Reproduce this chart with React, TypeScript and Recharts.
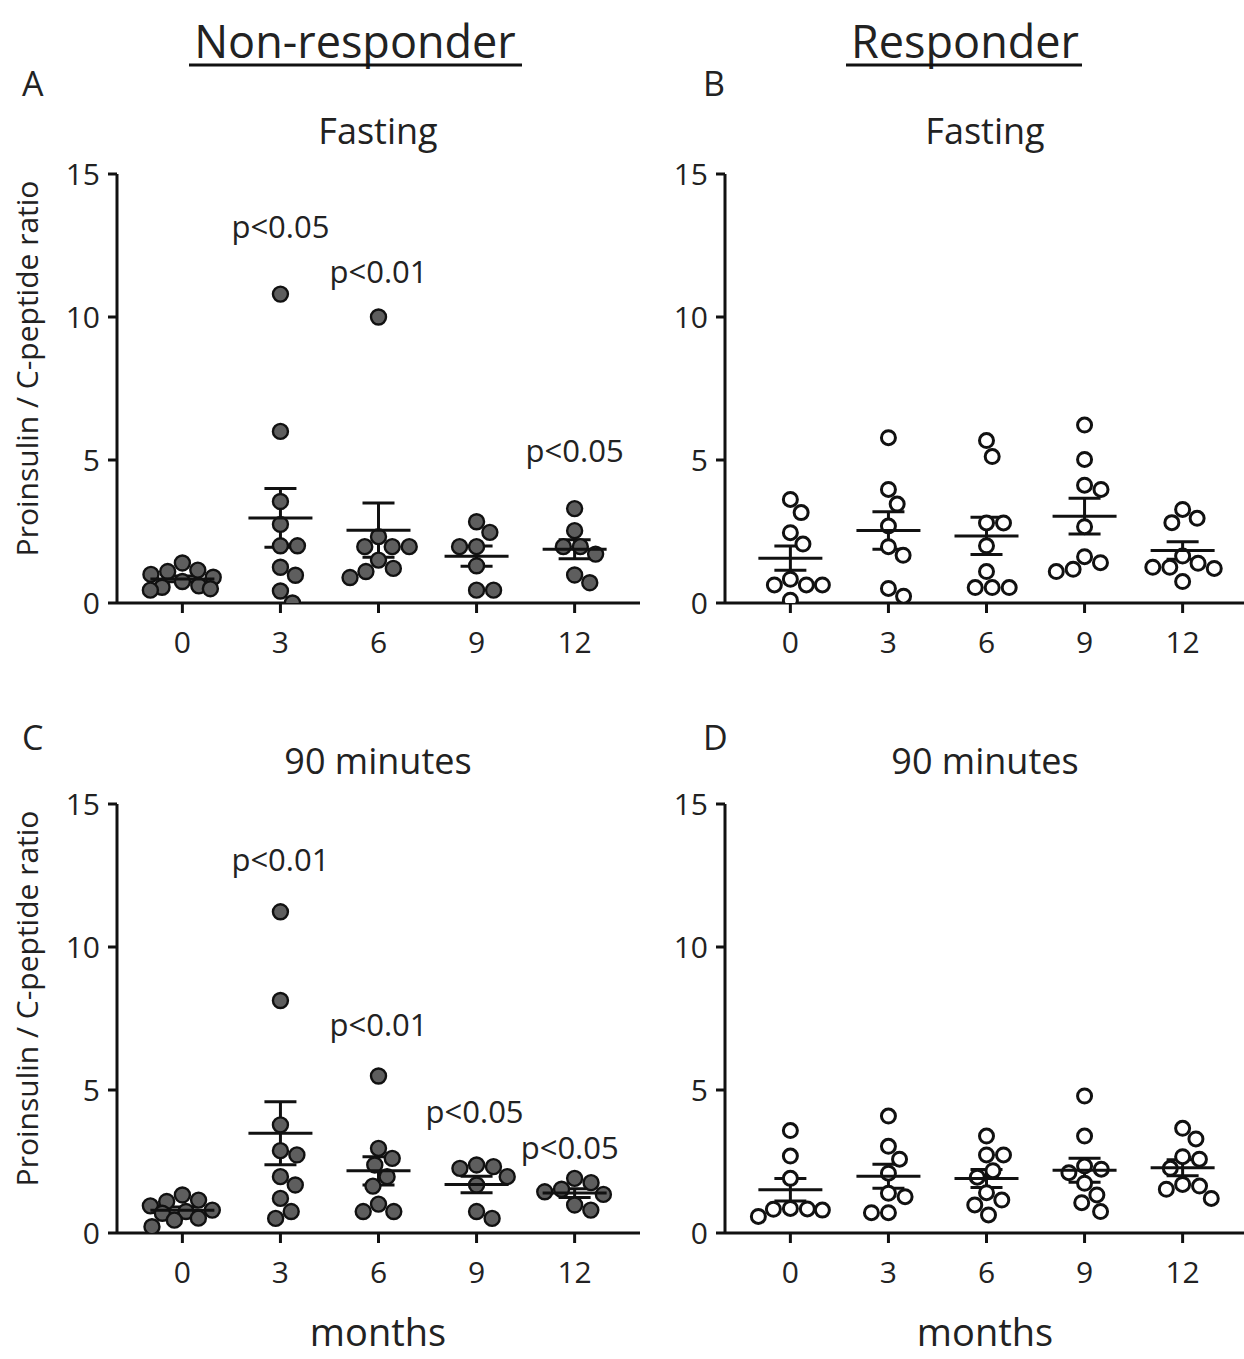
import React from 'react';
import { ScatterChart, Scatter, XAxis, YAxis, ErrorBar, ReferenceDot } from 'recharts';

// x categories (months) and y ticks
const months = [0, 3, 6, 9, 12];
const yTicks = [0, 5, 10, 15];

// proinsulin / C-peptide ratio per subject, one inner array per month
const nonResponderFasting = [
  [1.4, 1.15, 1.1, 1.0, 0.9, 0.75, 0.6, 0.55, 0.5, 0.45],
  [10.8, 6.0, 3.55, 2.75, 2.0, 2.0, 1.25, 0.97, 0.42, 0.0],
  [10.0, 2.32, 1.97, 1.97, 1.97, 1.5, 1.21, 1.1, 0.89],
  [2.84, 2.47, 1.97, 1.97, 1.3, 0.45, 0.45],
  [3.3, 2.53, 1.97, 1.97, 1.71, 0.98, 0.71],
];
const responderFasting = [
  [3.62, 3.16, 2.46, 2.06, 0.83, 0.63, 0.63, 0.63, 0.1],
  [5.78, 3.97, 3.46, 2.69, 1.97, 1.67, 0.51, 0.24],
  [5.68, 5.12, 2.8, 2.8, 2.0, 1.1, 0.54, 0.54, 0.54],
  [6.22, 5.02, 4.12, 3.97, 2.67, 1.62, 1.41, 1.18, 1.1],
  [3.27, 2.96, 2.81, 1.64, 1.39, 1.25, 1.25, 1.21, 0.75],
];
const nonResponder90 = [
  [1.33, 1.15, 1.1, 0.95, 0.8, 0.75, 0.69, 0.52, 0.45, 0.22],
  [11.23, 8.13, 3.78, 2.88, 2.73, 1.97, 1.68, 1.21, 0.75, 0.51],
  [5.49, 2.96, 2.61, 2.38, 1.97, 1.64, 1.01, 0.75, 0.75],
  [2.38, 2.32, 2.26, 1.97, 1.68, 0.75, 0.51],
  [1.91, 1.76, 1.53, 1.44, 1.35, 0.98, 0.8],
];
const responder90 = [
  [3.58, 2.69, 1.91, 0.86, 0.84, 0.83, 0.8, 0.58],
  [4.09, 3.03, 2.58, 2.09, 1.39, 1.27, 0.71, 0.71],
  [3.39, 2.73, 2.73, 2.18, 1.95, 1.41, 1.15, 0.98, 0.63],
  [4.79, 3.39, 2.34, 2.23, 2.11, 1.74, 1.33, 1.06, 0.75],
  [3.66, 3.29, 2.67, 2.58, 2.26, 1.7, 1.64, 1.53, 1.21],
];

// significance labels: [month, ratio, text]
const notesA: [number, number, string][] = [
  [3, 13.15, 'p<0.05'],
  [6, 11.57, 'p<0.01'],
  [12, 5.31, 'p<0.05'],
];
const notesC: [number, number, string][] = [
  [3, 13.04, 'p<0.01'],
  [6, 7.27, 'p<0.01'],
  [8.94, 4.23, 'p<0.05'],
  [11.85, 2.97, 'p<0.05'],
];

const FONT = '"Open Sans", sans-serif';
const INK = '#222';
const W = 660;
const H = 520;
const M = { top: 24, right: 20, bottom: 0, left: 0 };
const YW = 117;
const XH = 67;
const PX_X = (W - M.right - YW) / 16;
const PX_Y = (H - M.top - XH) / 15;

// simple beeswarm with a max spread: offsets (in months)
function swarm(vals: number[], d = 17, maxHalf = 32) {
  const placed: { x: number; y: number }[] = [];
  const off = new Array(vals.length).fill(0);
  const order = vals.map((_, i) => i).sort((a, b) => vals[b] - vals[a]);
  for (const i of order) {
    const y = vals[i] * PX_Y;
    let cands = [0];
    placed.forEach((p) => {
      const dy = Math.abs(p.y - y);
      if (dy < d) {
        const dx = Math.sqrt(d * d - dy * dy);
        cands.push(p.x + dx, p.x - dx);
      }
    });
    for (let k = 1; k <= 8; k++) cands.push((maxHalf * k) / 8, (-maxHalf * k) / 8);
    cands = cands.filter((c) => Math.abs(c) <= maxHalf).sort((a, b) => Math.abs(a) - Math.abs(b));
    const gap = (c: number) => Math.min(Infinity, ...placed.map((p) => Math.hypot(p.x - c, p.y - y)));
    let x = cands.find((c) => gap(c) >= d - 0.01);
    if (x === undefined) x = cands.reduce((b, c) => (gap(c) > gap(b) ? c : b), cands[0]);
    placed.push({ x, y });
    off[i] = x;
  }
  return off.map((o) => o / PX_X);
}

const YLabel = (props: any) => {
  const vb = props.viewBox || { y: 0, height: 0 };
  const cy = vb.y + vb.height / 2 - 20;
  return (
    <text x={26} y={cy} transform={`rotate(-90 26 ${cy})`} textAnchor="middle" dominantBaseline="central"
      fontFamily={FONT} fontSize={30} fill={INK}>
      Proinsulin / C-peptide ratio
    </text>
  );
};

function Panel({ groups, open, notes, left, top }: { groups: number[][]; open: boolean; notes: [number, number, string][]; left: number; top: number }) {
  const points = groups.flatMap((vals, gi) => {
    const offs = swarm(vals);
    return vals.map((v, i) => ({ x: months[gi] + offs[i], y: v }));
  });
  const means = groups.map((vals, gi) => {
    const n = vals.length;
    const mean = vals.reduce((s, v) => s + v, 0) / n;
    const sd = Math.sqrt(vals.reduce((s, v) => s + (v - mean) ** 2, 0) / (n - 1));
    return { x: months[gi], y: mean, sem: sd / Math.sqrt(n) };
  });
  const axisStyle = { stroke: '#111', strokeWidth: 3 };
  return (
    <div style={{ position: 'absolute', left, top }}>
      <ScatterChart width={W} height={H} margin={M}>
        <XAxis type="number" dataKey="x" domain={[-2, 14]} ticks={months} allowDataOverflow height={XH}
          axisLine={axisStyle} tickLine={axisStyle} tickSize={10} tickMargin={19}
          tick={{ fontSize: 30, fill: INK, fontFamily: FONT }} />
        <YAxis type="number" dataKey="y" domain={[0, 15]} ticks={yTicks} allowDataOverflow width={YW}
          axisLine={axisStyle} tickLine={axisStyle} tickSize={9} tickMargin={8}
          tick={{ fontSize: 30, fill: INK, fontFamily: FONT }}
          label={open ? undefined : <YLabel />} />
        <Scatter data={points} isAnimationActive={false}
          shape={(p: any) => (
            <circle cx={p.cx} cy={p.cy} r={open ? 7 : 7.5}
              fill={open ? '#fff' : '#5e5e5e'} stroke="#111" strokeWidth={open ? 3 : 2.4} />
          )} />
        <Scatter data={means} isAnimationActive={false}
          shape={(p: any) => (
            <line x1={p.cx - 32} x2={p.cx + 32} y1={p.cy} y2={p.cy} stroke="#111" strokeWidth={3} />
          )}>
          <ErrorBar dataKey="sem" direction="y" width={16} stroke="#111" strokeWidth={3} />
        </Scatter>
        {notes.map(([x, y, t], i) => (
          <ReferenceDot key={i} x={x} y={y} r={0} fill="none" stroke="none"
            label={{ value: t, position: 'center', fontSize: 31, fill: INK, fontFamily: FONT }} />
        ))}
      </ScatterChart>
    </div>
  );
}

export default function App() {
  const txt = { fontFamily: FONT, fill: INK } as const;
  return (
    <div style={{ position: 'absolute', left: 0, top: 0, width: 1244, height: 1359, overflow: 'hidden', background: '#fff' }}>
      <svg width={1244} height={1359} style={{ position: 'absolute', left: 0, top: 0 }}>
        <text x={355} y={58} textAnchor="middle" fontSize={45} {...txt}>Non-responder</text>
        <line x1={189} x2={522} y1={65} y2={65} stroke="#111" strokeWidth={3} />
        <text x={965} y={58} textAnchor="middle" fontSize={45} {...txt}>Responder</text>
        <line x1={846} x2={1082} y1={65} y2={65} stroke="#111" strokeWidth={3} />
        <text x={22} y={96} fontSize={34} {...txt}>A</text>
        <text x={703} y={96} fontSize={34} {...txt}>B</text>
        <text x={22} y={750} fontSize={34} {...txt}>C</text>
        <text x={703} y={750} fontSize={34} {...txt}>D</text>
        <text x={378} y={144} textAnchor="middle" fontSize={36} {...txt}>Fasting</text>
        <text x={985} y={144} textAnchor="middle" fontSize={36} {...txt}>Fasting</text>
        <text x={378} y={774} textAnchor="middle" fontSize={36} {...txt}>90 minutes</text>
        <text x={985} y={774} textAnchor="middle" fontSize={36} {...txt}>90 minutes</text>
        <text x={378} y={1346} textAnchor="middle" fontSize={38} {...txt}>months</text>
        <text x={985} y={1346} textAnchor="middle" fontSize={38} {...txt}>months</text>
      </svg>
      <Panel groups={nonResponderFasting} open={false} notes={notesA} left={0} top={150} />
      <Panel groups={responderFasting} open={true} notes={[]} left={608} top={150} />
      <Panel groups={nonResponder90} open={false} notes={notesC} left={0} top={780} />
      <Panel groups={responder90} open={true} notes={[]} left={608} top={780} />
    </div>
  );
}
